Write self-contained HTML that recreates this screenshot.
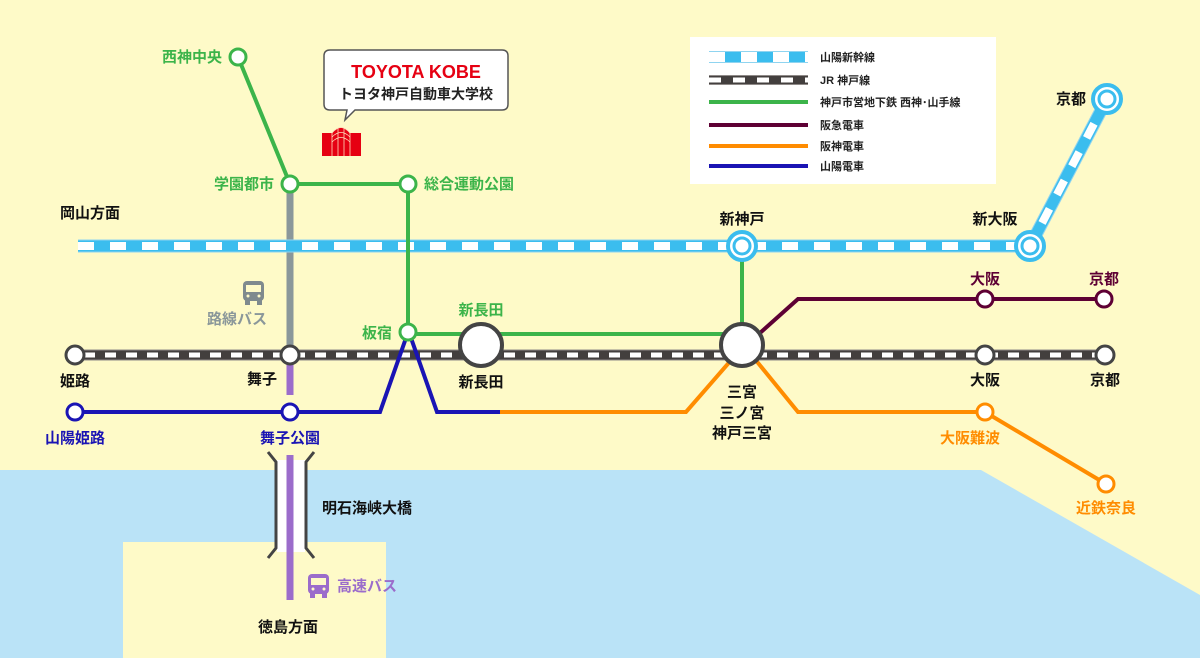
<!DOCTYPE html>
<html><head><meta charset="utf-8"><style>
html,body{margin:0;padding:0;background:#fefac8}
svg{display:block}
text{font-family:"Liberation Sans","Noto Sans CJK JP",sans-serif;font-weight:bold}
</style></head><body>
<svg width="1200" height="658" viewBox="0 0 1200 658" xmlns="http://www.w3.org/2000/svg">
<rect width="1200" height="658" fill="#fefac8"/>
<polygon points="0,470 981,470 1200,595 1200,658 0,658" fill="#bae3f7"/>
<rect x="123" y="542" width="263" height="116" fill="#fefac8"/>
<rect x="277" y="460" width="28" height="92" fill="#fff"/>
<path d="M268,452 L276,462 L276,548 L268,558 M314,452 L306,462 L306,548 L314,558" stroke="#444" stroke-width="3" fill="none"/>
<line x1="290" y1="455" x2="290" y2="600" stroke="#9b6ccb" stroke-width="7"/>
<line x1="290" y1="360" x2="290" y2="395" stroke="#9b6ccb" stroke-width="7"/>
<line x1="290" y1="184" x2="290" y2="355" stroke="#8a979a" stroke-width="7"/>
<g>
<line x1="78" y1="246" x2="1030" y2="246" stroke="#8fd4f0" stroke-width="13"/>
<line x1="78" y1="246" x2="1030" y2="246" stroke="#3bbdee" stroke-width="11"/>
<line x1="78" y1="246" x2="1030" y2="246" stroke="#fff" stroke-width="8" stroke-dasharray="16 16"/>
<line x1="1030" y1="246" x2="1107" y2="99" stroke="#8fd4f0" stroke-width="13"/>
<line x1="1030" y1="246" x2="1107" y2="99" stroke="#3bbdee" stroke-width="11"/>
<line x1="1030" y1="246" x2="1107" y2="99" stroke="#fff" stroke-width="8" stroke-dasharray="16 16" stroke-dashoffset="6"/>
</g>
<line x1="75" y1="355" x2="1105" y2="355" stroke="#8f8a88" stroke-width="11"/>
<line x1="75" y1="355" x2="1105" y2="355" stroke="#433f3e" stroke-width="9"/>
<line x1="84" y1="355" x2="1105" y2="355" stroke="#fff" stroke-width="5" stroke-dasharray="11 10"/>
<g stroke="#3cb44a" stroke-width="4" fill="none">
<polyline points="238,57 290,184 408,184 408,334 742,334"/>
<line x1="742" y1="246" x2="742" y2="345"/>
</g>
<polyline points="760,333 798,299 1104,299" stroke="#5e0034" stroke-width="4" fill="none"/>
<polyline points="75,412 380,412 406,338 411,338 437,412 500,412" stroke="#1a14b4" stroke-width="4" fill="none"/>
<polyline points="500,412 686,412 733,358" stroke="#ff8c00" stroke-width="4" fill="none"/>
<polyline points="754,358 798,412 985,412 1106,484" stroke="#ff8c00" stroke-width="4" fill="none"/>
<g fill="#fff" stroke-width="3">
<circle cx="238" cy="57" r="8" stroke="#3cb44a"/>
<circle cx="290" cy="184" r="8" stroke="#3cb44a"/>
<circle cx="408" cy="184" r="8" stroke="#3cb44a"/>
<circle cx="408" cy="332" r="8" stroke="#3cb44a"/>
<circle cx="75" cy="355" r="9" stroke="#444"/>
<circle cx="290" cy="355" r="9" stroke="#444"/>
<circle cx="985" cy="355" r="9" stroke="#444"/>
<circle cx="1105" cy="355" r="9" stroke="#444"/>
<circle cx="75" cy="412" r="8" stroke="#1a14b4"/>
<circle cx="290" cy="412" r="8" stroke="#1a14b4"/>
<circle cx="985" cy="299" r="8" stroke="#5e0034"/>
<circle cx="1104" cy="299" r="8" stroke="#5e0034"/>
<circle cx="985" cy="412" r="8" stroke="#ff8c00"/>
<circle cx="1106" cy="484" r="8" stroke="#ff8c00"/>
<circle cx="481" cy="345" r="21" stroke="#444" stroke-width="4"/>
<circle cx="742" cy="345" r="21" stroke="#444" stroke-width="4"/>
</g>
<g fill="#fff" stroke="#3bbdee">
<circle cx="742" cy="246" r="14" stroke-width="4"/><circle cx="742" cy="246" r="8" stroke-width="3"/>
<circle cx="1030" cy="246" r="14" stroke-width="4"/><circle cx="1030" cy="246" r="8" stroke-width="3"/>
<circle cx="1107" cy="99" r="14" stroke-width="4"/><circle cx="1107" cy="99" r="8" stroke-width="3"/>
</g>
<path d="M330,50 H502 Q508,50 508,56 V104 Q508,110 502,110 H355 L345,120 L347,110 H330 Q324,110 324,104 V56 Q324,50 330,50 Z" fill="#fff" stroke="#555" stroke-width="1.5"/>
<text x="416" y="78" text-anchor="middle" font-size="18" fill="#e60012">TOYOTA KOBE</text>
<text x="416" y="99" text-anchor="middle" font-size="14" fill="#222">トヨタ神戸自動車大学校</text>
<g fill="#e60012">
<rect x="322" y="133" width="39" height="23"/>
<path d="M332,156 V133 Q341,122 350,133 V156 Z"/>
</g>
<g stroke="#fdb" stroke-width="0.8" fill="none">
<path d="M332,156 V133 Q341,122 350,133 V156 M338,156 V128 M344,156 V128 M332,137 Q341,128 350,137 M332,142 Q341,133 350,142"/>
</g>
<g fill="#7f8a8e">
<rect x="243" y="281" width="21" height="20" rx="4"/>
<rect x="245" y="300" width="5" height="5"/><rect x="257" y="300" width="5" height="5"/>
<rect x="246" y="285" width="15" height="7" fill="#fefac8"/>
<circle cx="248" cy="296" r="1.5" fill="#fefac8"/><circle cx="259" cy="296" r="1.5" fill="#fefac8"/>
</g>
<g fill="#9b6ccb">
<rect x="308" y="574" width="21" height="20" rx="4"/>
<rect x="310" y="593" width="5" height="5"/><rect x="322" y="593" width="5" height="5"/>
<rect x="311" y="578" width="15" height="7" fill="#fefac8"/>
<circle cx="313" cy="589" r="1.5" fill="#fefac8"/><circle cx="324" cy="589" r="1.5" fill="#fefac8"/>
</g>
<rect x="690" y="37" width="306" height="147" fill="#fff"/>
<line x1="709" y1="57" x2="808" y2="57" stroke="#8fd4f0" stroke-width="12"/>
<line x1="709" y1="57" x2="808" y2="57" stroke="#3bbdee" stroke-width="10"/>
<line x1="709" y1="57" x2="808" y2="57" stroke="#fff" stroke-width="10" stroke-dasharray="16 16"/>
<line x1="709" y1="80" x2="808" y2="80" stroke="#8f8a88" stroke-width="10"/>
<line x1="709" y1="80" x2="808" y2="80" stroke="#433f3e" stroke-width="8"/>
<line x1="709" y1="80" x2="808" y2="80" stroke="#fff" stroke-width="5" stroke-dasharray="12 12"/>
<line x1="709" y1="102" x2="808" y2="102" stroke="#3cb44a" stroke-width="4"/>
<line x1="709" y1="125" x2="808" y2="125" stroke="#5e0034" stroke-width="4"/>
<line x1="709" y1="146" x2="808" y2="146" stroke="#ff8c00" stroke-width="4"/>
<line x1="709" y1="166" x2="808" y2="166" stroke="#1a14b4" stroke-width="4"/>
<g font-size="11" fill="#222">
<text x="820" y="61">山陽新幹線</text>
<text x="820" y="84">JR 神戸線</text>
<text x="820" y="106">神戸市営地下鉄 西神･山手線</text>
<text x="820" y="129">阪急電車</text>
<text x="820" y="150">阪神電車</text>
<text x="820" y="170">山陽電車</text>
</g>
<g font-size="15">
<g fill="#3cb44a">
<text x="222" y="62" text-anchor="end">西神中央</text>
<text x="274" y="189" text-anchor="end">学園都市</text>
<text x="424" y="189">総合運動公園</text>
<text x="392" y="338" text-anchor="end">板宿</text>
<text x="481" y="315" text-anchor="middle">新長田</text>
</g>
<g fill="#111">
<text x="60" y="218">岡山方面</text>
<text x="742" y="224" text-anchor="middle">新神戸</text>
<text x="995" y="224" text-anchor="middle">新大阪</text>
<text x="1086" y="104" text-anchor="end">京都</text>
<text x="75" y="386" text-anchor="middle">姫路</text>
<text x="262" y="384" text-anchor="middle">舞子</text>
<text x="481" y="387" text-anchor="middle">新長田</text>
<text x="742" y="397" text-anchor="middle">三宮</text>
<text x="742" y="418" text-anchor="middle">三ノ宮</text>
<text x="742" y="438" text-anchor="middle">神戸三宮</text>
<text x="985" y="385" text-anchor="middle">大阪</text>
<text x="1105" y="385" text-anchor="middle">京都</text>
<text x="322" y="513">明石海峡大橋</text>
<text x="288" y="632" text-anchor="middle">徳島方面</text>
</g>
<g fill="#1a14b4">
<text x="75" y="443" text-anchor="middle">山陽姫路</text>
<text x="290" y="443" text-anchor="middle">舞子公園</text>
</g>
<g fill="#5e0034">
<text x="985" y="284" text-anchor="middle">大阪</text>
<text x="1104" y="284" text-anchor="middle">京都</text>
</g>
<g fill="#ff8c00">
<text x="970" y="443" text-anchor="middle">大阪難波</text>
<text x="1106" y="513" text-anchor="middle">近鉄奈良</text>
</g>
<text x="237" y="324" text-anchor="middle" fill="#8a979a">路線バス</text>
<text x="337" y="591" fill="#9b6ccb">高速バス</text>
</g>
</svg>
</body></html>
